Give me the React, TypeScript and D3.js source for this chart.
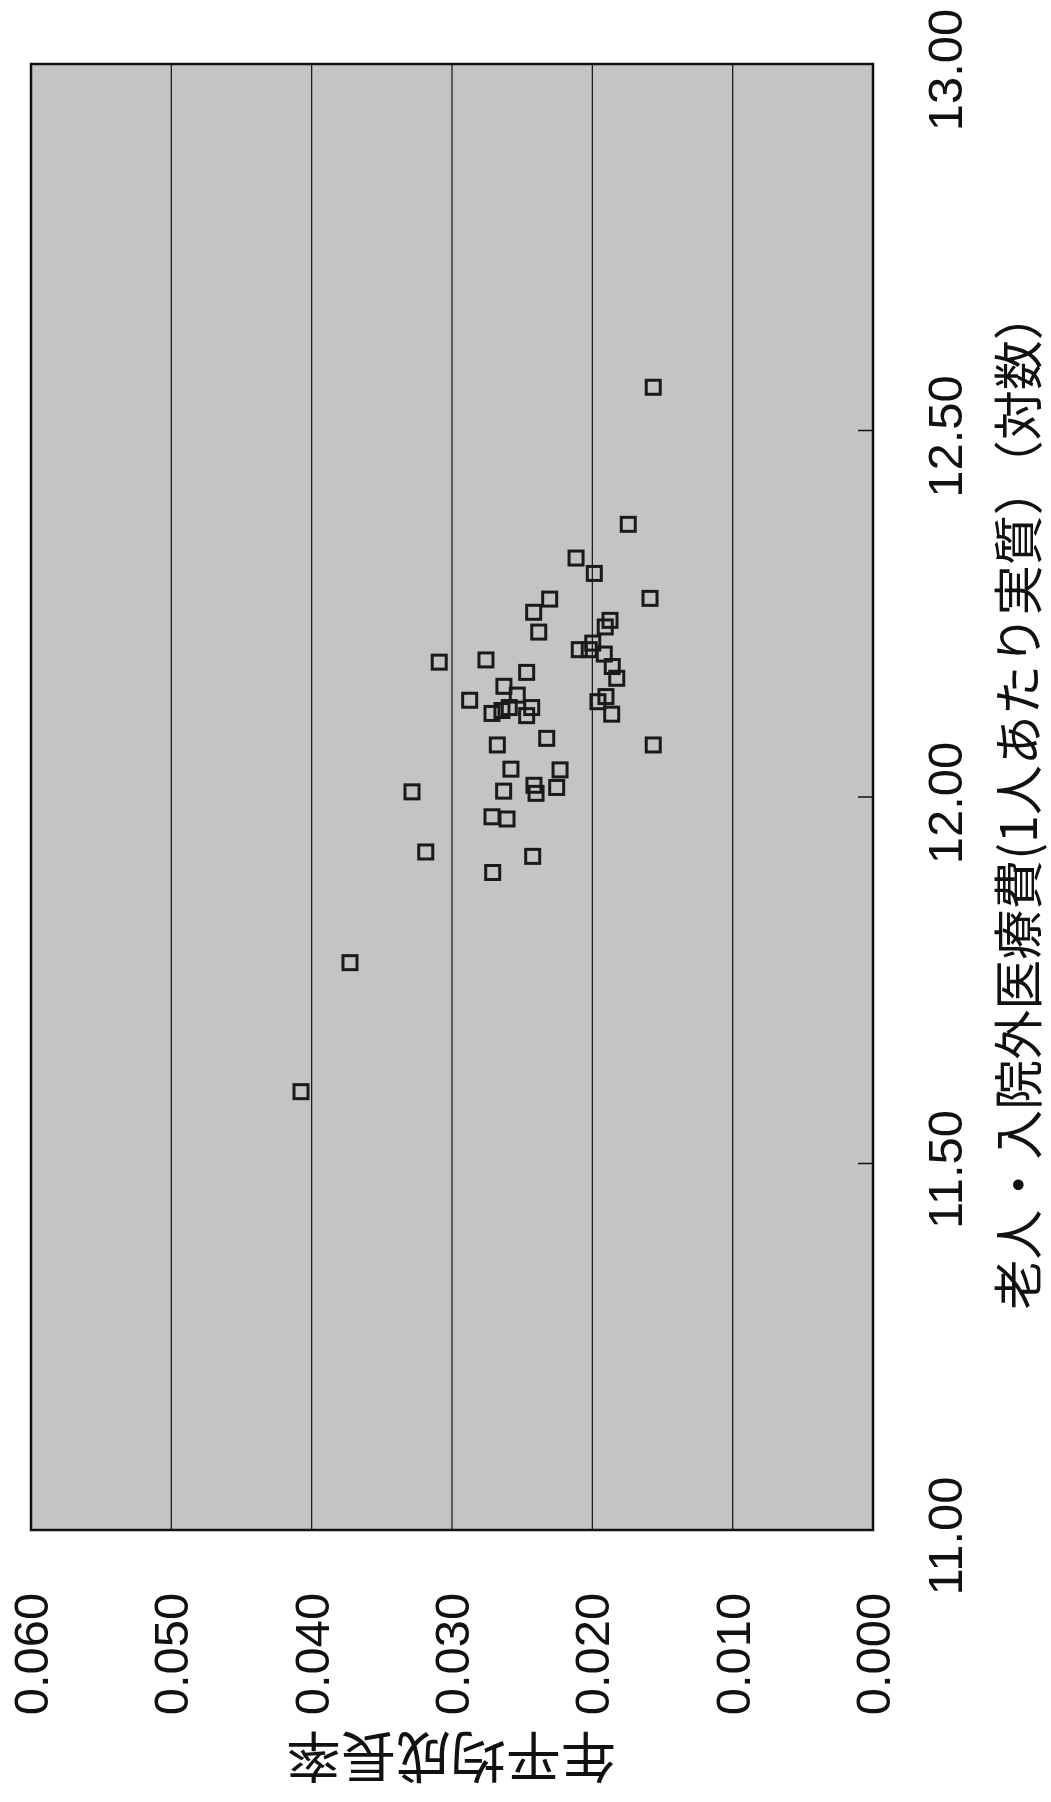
import React from "react";
import * as d3 from "d3";

// log of per-capita outpatient medical expense (elderly), x
const logExpense: number[] = [
  12.559, 12.372, 12.326, 12.305, 12.271, 12.27, 12.252, 12.241, 12.232, 12.225,
  12.21, 12.201, 12.201, 12.195, 12.184, 12.187, 12.178, 12.17, 12.162, 12.151,
  12.139, 12.132, 12.137, 12.13, 12.122, 12.122, 12.118, 12.114, 12.111, 12.113,
  12.08, 12.071, 12.071, 12.038, 12.037, 12.007, 12.008, 12.016, 12.005, 12.013,
  11.973, 11.97, 11.925, 11.919, 11.897, 11.774, 11.598,
];
// average annual growth rate, y
const growthRate: number[] = [
  0.01566, 0.01744, 0.02116, 0.01986, 0.01589, 0.02304, 0.02418, 0.01874, 0.01908, 0.02382,
  0.01997, 0.02093, 0.02022, 0.01915, 0.03091, 0.02758, 0.01858, 0.02468, 0.01826, 0.0263,
  0.02535, 0.02874, 0.01903, 0.0196, 0.02432, 0.02592, 0.02644, 0.02715, 0.02468, 0.01862,
  0.02325, 0.02677, 0.01566, 0.0258, 0.0223, 0.03285, 0.02632, 0.02416, 0.02401, 0.02254,
  0.02715, 0.02608, 0.03187, 0.02425, 0.0271, 0.03727, 0.04076,
];

const xTicks: number[] = [11.0, 11.5, 12.0, 12.5, 13.0];
const yTicks: number[] = [0, 0.01, 0.02, 0.03, 0.04, 0.05, 0.06];
const xTitle = "老人・入院外医療費(1人あたり実質）（対数）";
const yTitle = "年平均成長率";

export default function App() {
  // Chart is rotated 90° counter-clockwise: x values run bottom→top, y values run right→left
  const top = 64, bottom = 1530, left = 31, right = 873;
  const xs = d3.scaleLinear().domain([11, 13]).range([bottom, top]);
  const ys = d3.scaleLinear().domain([0, 0.06]).range([right, left]);
  const font = "'Liberation Sans', Arial, sans-serif";
  const cjk = "'Noto Sans CJK JP', 'Noto Sans CJK SC', sans-serif";
  const ms = 14;
  return (
    <svg
      width={1051}
      height={1802}
      style={{ position: "absolute", left: 0, top: 0, background: "#fff" }}
    >
      <rect x={left} y={top} width={right - left} height={bottom - top} fill="#c4c4c4" />
      {yTicks.slice(1, -1).map((t) => (
        <line key={"g" + t} x1={ys(t)} x2={ys(t)} y1={top} y2={bottom} stroke="#111" strokeWidth={1.2} />
      ))}
      {xTicks.slice(1, -1).map((t) => (
        <line key={"xt" + t} x1={right - 15} x2={right} y1={xs(t)} y2={xs(t)} stroke="#111" strokeWidth={1.5} />
      ))}
      <rect x={left} y={top} width={right - left} height={bottom - top} fill="none" stroke="#111" strokeWidth={2.5} />
      {logExpense.map((v, i) => (
        <rect
          key={"p" + i}
          x={ys(growthRate[i]) - ms / 2}
          y={xs(v) - ms / 2}
          width={ms}
          height={ms}
          fill="none"
          stroke="#1a1a1a"
          strokeWidth={3}
        />
      ))}
      {xTicks.map((t) => (
        <text
          key={"xl" + t}
          transform={`translate(945,${xs(t) + 6}) rotate(-90)`}
          textAnchor="middle"
          dominantBaseline="central"
          fontFamily={font}
          fontSize={49}
          fill="#111"
        >
          {d3.format(".2f")(t)}
        </text>
      ))}
      {yTicks.map((t) => (
        <text
          key={"yl" + t}
          transform={`translate(${ys(t)},1654) rotate(-90)`}
          textAnchor="middle"
          dominantBaseline="central"
          fontFamily={font}
          fontSize={49}
          fill="#111"
        >
          {d3.format(".3f")(t)}
        </text>
      ))}
      <text
        transform="translate(1015,800) rotate(-90)"
        textAnchor="middle"
        dominantBaseline="central"
        fontFamily={cjk}
        fontSize={50}
        fill="#111"
      >
        {xTitle}
      </text>
      <text
        transform="translate(451,1761) rotate(180)"
        textAnchor="middle"
        dominantBaseline="central"
        fontFamily={cjk}
        fontSize={55}
        fill="#111"
      >
        {yTitle}
      </text>
    </svg>
  );
}
